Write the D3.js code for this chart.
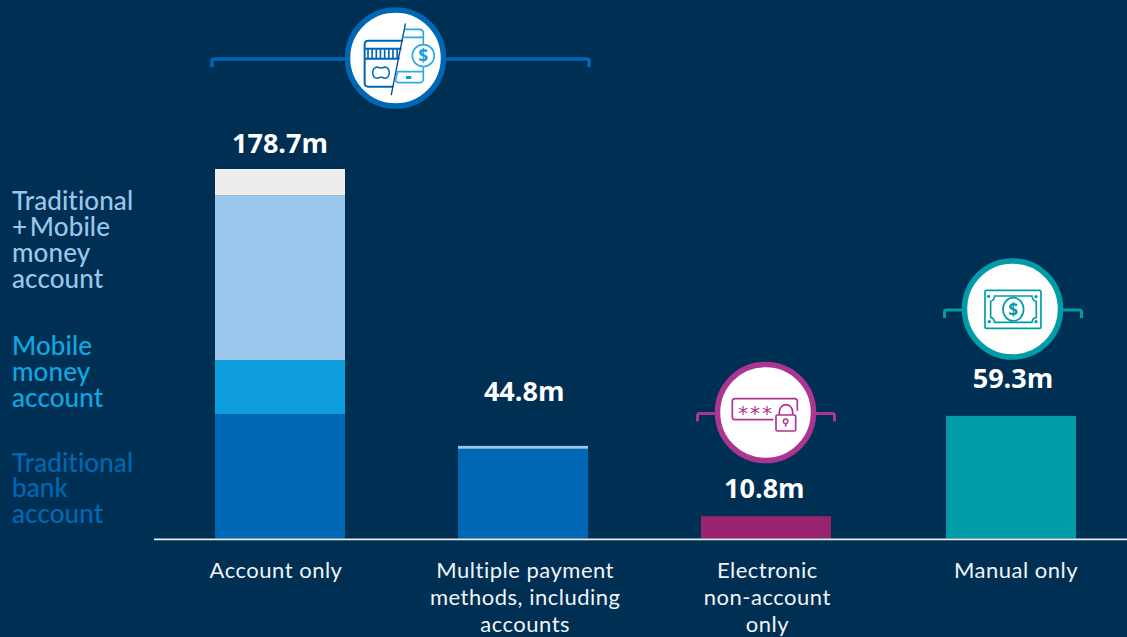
<!DOCTYPE html>
<html><head><meta charset="utf-8">
<script src="https://cdn.jsdelivr.net/npm/d3@7"></script>
<style>html,body{margin:0;padding:0;background:#002F54;overflow:hidden}svg{display:block}</style>
</head><body><svg id="c" width="1127" height="637"></svg>
<script>
// ---- data ----
const categories = ["Account only", "Multiple payment methods, including accounts", "Electronic non-account only", "Manual only"];
const categoryLines = [["Account only"], ["Multiple payment", "methods, including", "accounts"], ["Electronic", "non-account", "only"], ["Manual only"]];
const valueLabels = ["178.7m", "44.8m", "10.8m", "59.3m"];
const traditionalBank = [60.2, 43.4, 0, 0];
const mobileMoney = [26.1, 0, 0, 0];
const traditionalMobile = [79.8, 1.4, 0, 0];
const otherAccount = [12.6, 0, 0, 0];
const electronicOnly = [0, 0, 10.8, 0];
const manualOnly = [0, 0, 0, 59.3];
const legendLines = [["Traditional", "+ Mobile", "money", "account"], ["Mobile", "money", "account"], ["Traditional", "bank", "account"]];

// ---- style / layout ----
const BG = "#002F54", DARK = "#0067B5", MID = "#0F9EDD", LIGHT = "#9AC6EB", GREY = "#EDEDED", PURPLE = "#98236F", TEAL = "#009DA9";
const RING_PURPLE = "#AB3591", PHONE = "#29ABE2";
const LABEL_FONT = "Lato, sans-serif", VALUE_FONT = "'Open Sans', sans-serif";
const series = [
  {v: traditionalBank, c: DARK}, {v: mobileMoney, c: MID}, {v: traditionalMobile, c: LIGHT},
  {v: otherAccount, c: GREY}, {v: electronicOnly, c: PURPLE}, {v: manualOnly, c: TEAL}
];
const barDx = [0, -0.67, -1.33, 0];
const valueGap = [16, 45, 18, 27.5], valueDx = [0, 0.5, -3, 2], catDx = [-4, 1.5, 0, 5];
const legendBase = [[209.5, 235.5, 261.5, 287.5], [354.5, 380.5, 406.5], [471.5, 497, 522.5]];
const legendCol = [LIGHT, "#0FA8E0", DARK];

const svg = d3.select("#c");
svg.append("rect").attr("width", 1127).attr("height", 637).attr("fill", BG);

const x = d3.scaleBand().domain(categories).range([215, 1076]).paddingInner(0.4665).paddingOuter(0);
const y = d3.scaleLinear().domain([0, 178.7]).range([538.5, 169]);

// bars
const stack = d3.stack().keys(d3.range(series.length)).value((d, k) => series[k].v[d]);
const layers = stack(d3.range(categories.length));
svg.append("g").selectAll("g").data(layers).join("g").attr("fill", (d, i) => series[i].c)
  .selectAll("rect").data(d => d.filter(s => s[1] > s[0]).map(s => ({s, i: s.data, cat: categories[s.data]})))
  .join("rect")
  .attr("x", d => x(d.cat) + barDx[d.i]).attr("width", x.bandwidth())
  .attr("y", d => y(d.s[1])).attr("height", d => y(d.s[0]) - y(d.s[1]));

// axis
const axis = svg.append("g").attr("transform", "translate(0,539)")
  .call(d3.axisBottom(x).tickSize(0).tickPadding(0).tickFormat(""));
axis.select(".domain").remove();
axis.selectAll(".tick text").remove();
svg.append("line").attr("x1", 154).attr("x2", 1127).attr("y1", 539.3).attr("y2", 539.3).attr("stroke", "#E8EDF1").attr("stroke-width", 1.7);
axis.selectAll(".tick").data(categories).append("text")
  .attr("text-anchor", "middle").attr("fill", "#F1F4F7")
  .style("font", "22px " + LABEL_FONT).style("letter-spacing", "0.5px")
  .each(function (d, i) {
    d3.select(this).selectAll("tspan").data(categoryLines[i]).join("tspan")
      .attr("x", catDx[i]).attr("y", (l, j) => 38.5 + j * 27.3).text(l => l);
  });

// value labels
svg.append("g").selectAll("text").data(categories).join("text")
  .attr("text-anchor", "middle").attr("fill", "#fff")
  .style("font", "700 27px " + VALUE_FONT)
  .attr("x", (d, i) => x(d) + x.bandwidth() / 2 + valueDx[i])
  .attr("y", (d, i) => y(d3.sum(series, s => s.v[i])) - valueGap[i])
  .text((d, i) => valueLabels[i]);

// legend
legendLines.forEach((lines, g) => {
  svg.append("g").selectAll("text").data(lines).join("text")
    .attr("x", 12).attr("y", (l, j) => legendBase[g][j])
    .attr("fill", legendCol[g]).style("font", "500 26px " + LABEL_FONT).style("letter-spacing", "0.1px").style("word-spacing", "-4px").text(l => l);
});

// brackets + badges
function bracket(x0, x1, yy, drop, col, w) {
  svg.append("path").attr("fill", "none").attr("stroke", col).attr("stroke-width", w)
    .attr("d", `M${x0} ${yy + drop}V${yy + 2}Q${x0} ${yy} ${x0 + 2} ${yy}H${x1 - 2}Q${x1} ${yy} ${x1} ${yy + 2}V${yy + drop}`);
}
function badge(cx, cy, col) {
  svg.append("circle").attr("cx", cx).attr("cy", cy).attr("r", 48).attr("fill", "#fff").attr("stroke", col).attr("stroke-width", 5.5);
}
bracket(212, 589, 59, 8, DARK, 3.5);
badge(395.5, 58, DARK);
bracket(697.5, 834.5, 413.5, 8, RING_PURPLE, 3);
badge(765.5, 412.5, RING_PURPLE);
bracket(944.5, 1081.5, 310, 8, TEAL, 3);
badge(1012.5, 309, TEAL);

// icon: card + phone (coordinates in 3x crop space)
const ic1 = svg.append("g").attr("transform", "translate(200,0) scale(0.3333)").attr("fill", "none").attr("stroke-linecap", "round");
ic1.append("path").attr("stroke", DARK).attr("stroke-width", 6)
  .attr("d", "M606 122H505Q494 122 494 133V250Q494 260 505 260H578M494 146H602M494 176H596");
ic1.append("path").attr("stroke", DARK).attr("stroke-width", 5).attr("stroke-linecap", "butt")
  .attr("d", d3.range(504, 600, 12.5).map(v => `M${v} 148V174`).join(""));
ic1.append("path").attr("stroke", DARK).attr("stroke-width", 4.5)
  .attr("d", "M532 201Q543 207 554 201Q568 203 568 218Q568 233 554 235Q543 229 532 235Q518 233 518 218Q518 203 532 201Z");
ic1.append("line").attr("x1", 616).attr("y1", 72).attr("x2", 574).attr("y2", 284).attr("stroke", "#004F8F").attr("stroke-width", 4);
ic1.append("path").attr("stroke", PHONE).attr("stroke-width", 5)
  .attr("d", "M616 88H658Q670 88 670 100V130M609 112H670M670 204V236Q670 248 658 248H598Q586 248 587 238L593 215H668");
ic1.append("circle").attr("cx", 670).attr("cy", 167).attr("r", 33).attr("stroke", PHONE).attr("stroke-width", 5);
ic1.append("text").attr("x", 670).attr("y", 186).attr("text-anchor", "middle").attr("fill", "#0F9EDD")
  .style("font", "700 52px " + VALUE_FONT).text("$");
ic1.append("rect").attr("x", 618).attr("y", 228).attr("width", 16).attr("height", 9).attr("fill", "#0F9EDD");

// icon: password + lock / banknote (coordinates in 3x crop space)
const ic2 = svg.append("g").attr("transform", "translate(680,250) scale(0.3333)").attr("fill", "none");
ic2.append("path").attr("stroke", RING_PURPLE).attr("stroke-width", 5)
  .attr("d", "M280 509H165Q157 509 157 501V454Q157 446 165 446H344Q352 446 352 454V482");
ic2.append("text").attr("x", 228).attr("y", 511).attr("text-anchor", "middle").attr("fill", RING_PURPLE)
  .style("font", "400 60px 'DejaVu Sans', sans-serif").style("letter-spacing", "6px").text("***");
ic2.append("rect").attr("x", 288).attr("y", 495).attr("width", 59).attr("height", 48).attr("rx", 4).attr("fill", "#fff").attr("stroke", RING_PURPLE).attr("stroke-width", 5);
ic2.append("path").attr("stroke", RING_PURPLE).attr("stroke-width", 5).attr("d", "M298 495V486A20 22 0 0 1 338 486V495");
ic2.append("circle").attr("cx", 317).attr("cy", 514).attr("r", 7).attr("stroke", RING_PURPLE).attr("stroke-width", 4);
ic2.append("line").attr("x1", 317).attr("y1", 521).attr("x2", 317).attr("y2", 530).attr("stroke", RING_PURPLE).attr("stroke-width", 5);

ic2.append("rect").attr("x", 915).attr("y", 121).attr("width", 168).attr("height", 114).attr("rx", 5).attr("stroke", TEAL).attr("stroke-width", 5);
ic2.append("path").attr("stroke", TEAL).attr("stroke-width", 5)
  .attr("d", "M944 138H1056Q1058 152 1069 154V202Q1058 204 1056 217H944Q942 204 932 202V154Q942 152 944 138Z");
ic2.append("ellipse").attr("cx", 1000).attr("cy", 178).attr("rx", 31).attr("ry", 35).attr("stroke", TEAL).attr("stroke-width", 5);
ic2.append("text").attr("x", 1000).attr("y", 197).attr("text-anchor", "middle").attr("fill", TEAL)
  .style("font", "700 52px " + VALUE_FONT).text("$");
[[926, 139], [1068, 140], [928, 215], [1068, 215]].forEach(p =>
  ic2.append("circle").attr("cx", p[0]).attr("cy", p[1]).attr("r", 5).attr("fill", TEAL));
</script></body></html>
